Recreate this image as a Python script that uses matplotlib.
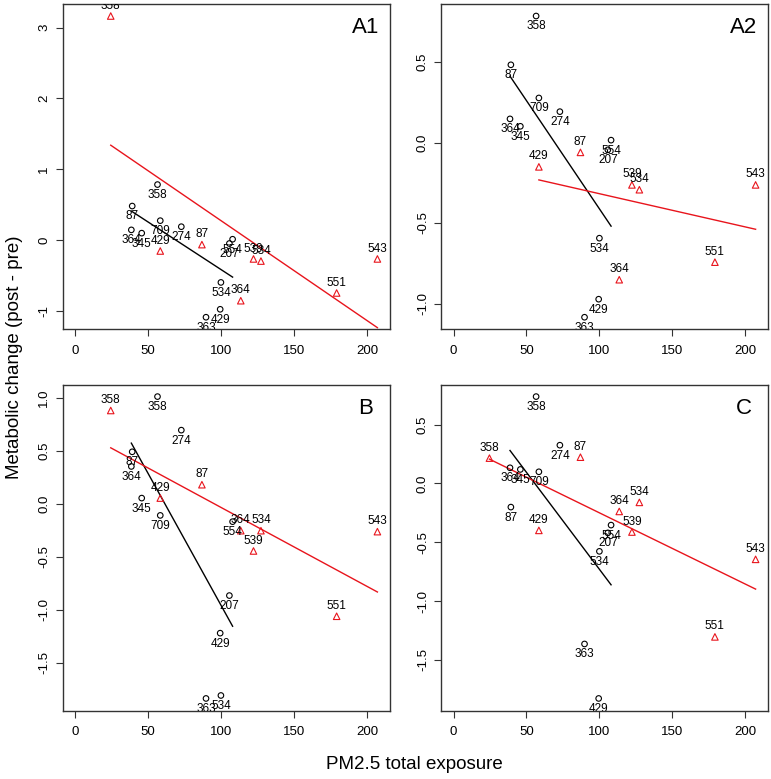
import numpy as np
import matplotlib
matplotlib.use("Agg")
import matplotlib.pyplot as plt
from matplotlib.ticker import MultipleLocator, FormatStrFormatter

plt.rcParams['font.family'] = ['Liberation Sans', 'DejaVu Sans']

# black circles (group 1), ids and PM2.5 exposure
black_ids = ['358', '87', '709', '274', '364', '345', '554', '207', '534', '429', '363']
black_x = [56.6, 39.3, 58.5, 72.9, 38.7, 45.8, 108.0, 105.8, 100.0, 99.5, 89.8]
# red triangles (group 2)
red_ids = ['358', '429', '87', '364', '539', '534', '551', '543']
red_x = [24.6, 58.5, 87.0, 113.6, 122.3, 127.4, 179.2, 207.1]

# metabolic change per panel
black_A1 = [0.786, 0.483, 0.277, 0.192, 0.147, 0.101, 0.015, -0.045, -0.594, -0.973, -1.085]
red_A1 = [3.163, -0.151, -0.061, -0.852, -0.263, -0.293, -0.743, -0.263]
black_A2 = [0.786, 0.483, 0.277, 0.192, 0.147, 0.101, 0.015, -0.045, -0.594, -0.973, -1.085]
red_A2 = [np.nan, -0.151, -0.061, -0.852, -0.263, -0.293, -0.743, -0.263]
black_B = [1.009, 0.489, -0.110, 0.693, 0.351, 0.053, -0.169, -0.865, -1.806, -1.219, -1.834]
red_B = [0.878, 0.053, 0.179, -0.254, -0.445, -0.254, -1.060, -0.263]
black_C = [0.738, -0.201, 0.099, 0.325, 0.133, 0.119, -0.354, -0.420, -0.577, -1.827, -1.364]
red_C = [0.215, -0.399, 0.223, -0.238, -0.413, -0.161, -1.304, -0.645]

panels = [
    ('A1', black_A1, red_A1, 1.0, '%d'),
    ('A2', black_A2, red_A2, 0.5, '%.1f'),
    ('B', black_B, red_B, 0.5, '%.1f'),
    ('C', black_C, red_C, 0.5, '%.1f'),
]
# axes rectangles in figure fraction
rects = [
    [0.0813, 0.5773, 0.4239, 0.4176],
    [0.5726, 0.5773, 0.4231, 0.4176],
    [0.0813, 0.0879, 0.4239, 0.4185],
    [0.5726, 0.0879, 0.4231, 0.4185],
]

frame_col = '#333333'

def fit_line(ax, xs, ys, col):
    xs = np.array(xs, dtype=float)
    ys = np.array(ys, dtype=float)
    ok = ~np.isnan(ys)
    xs, ys = xs[ok], ys[ok]
    m, b = np.polyfit(xs, ys, 1)
    xx = np.array([xs.min(), xs.max()])
    ax.plot(xx, m * xx + b, color=col, lw=1.0, zorder=2)


fig = plt.figure(figsize=(7.71, 7.79), dpi=100)

for (name, by, ry, step, fmt), rect in zip(panels, rects):
    ax = fig.add_axes(rect)
    ax.scatter(black_x, by, s=16, facecolors='none', edgecolors='black', linewidths=0.8, zorder=3)
    ax.scatter(red_x, ry, s=22, marker='^', facecolors='none', edgecolors='#e8141c', linewidths=0.8, zorder=3)
    fit_line(ax, black_x, by, 'black')
    fit_line(ax, red_x, ry, '#e8141c')

    for i, lab in enumerate(black_ids):
        ax.annotate(lab, (black_x[i], by[i]), xytext=(0, -7.5), textcoords='offset points',
                    ha='center', va='center', fontsize=8.5, clip_on=True)
    for i, lab in enumerate(red_ids):
        if np.isnan(ry[i]):
            continue
        ax.annotate(lab, (red_x[i], ry[i]), xytext=(0, 7.5), textcoords='offset points',
                    ha='center', va='center', fontsize=8.5, clip_on=True)

    ax.annotate(name, (1, 1), xycoords='axes fraction', xytext=(-17, -17), textcoords='offset points',
                ha='center', va='center', fontsize=16)

    # R style limits: 4% padding on the data range
    allx = np.array(black_x + red_x + [0.0])
    ally = np.array(list(by) + list(ry), dtype=float)
    ally = ally[~np.isnan(ally)]
    dx = allx.max() - allx.min()
    dy = ally.max() - ally.min()
    ax.set_xlim(allx.min() - 0.04 * dx, allx.max() + 0.04 * dx)
    ax.set_ylim(ally.min() - 0.04 * dy, ally.max() + 0.04 * dy)

    ax.xaxis.set_major_locator(MultipleLocator(50))
    ax.yaxis.set_major_locator(MultipleLocator(step))
    ax.yaxis.set_major_formatter(FormatStrFormatter(fmt))
    ax.tick_params(direction='out', length=5, width=0.8, color=frame_col, labelsize=9.5, pad=4)
    ax.tick_params(axis='x', pad=6)
    for t in ax.get_yticklabels():
        t.set_rotation(90)
        t.set_va('center')
    for sp in ax.spines.values():
        sp.set_color(frame_col)
        sp.set_linewidth(1.0)

fig.text(0.019, 0.542, 'Metabolic change (post - pre)', rotation=90, ha='center', va='center', fontsize=13.5)
fig.text(0.538, 0.018, 'PM2.5 total exposure', ha='center', va='center', fontsize=13.5)

fig.savefig('out.png', dpi=100)
